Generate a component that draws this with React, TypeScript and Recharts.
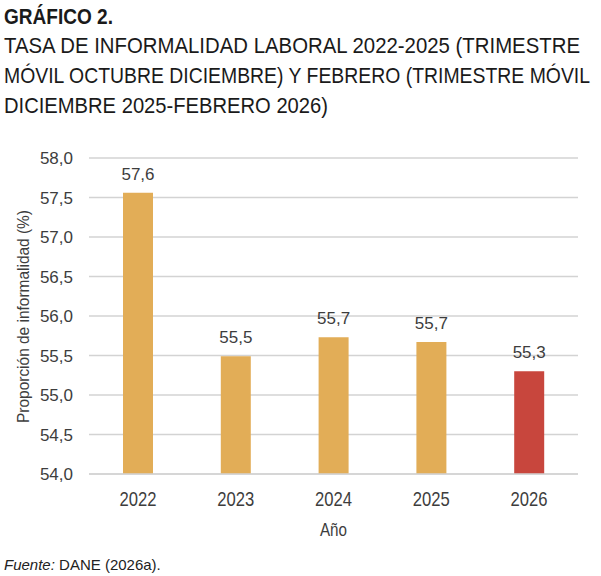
import { BarChart, Bar, XAxis, YAxis, CartesianGrid, Cell, LabelList } from 'recharts';

// trimestre móvil oct-dic (2022-2025) y dic-feb (2026)
const years = ['2022', '2023', '2024', '2025', '2026'];
const informalityRate = [57.56, 55.49, 55.73, 55.67, 55.3];
const barColors = ['#E2AD57', '#E2AD57', '#E2AD57', '#E2AD57', '#C8463D'];
const yTicks = [54, 54.5, 55, 55.5, 56, 56.5, 57, 57.5, 58];

const titleLines = [
  'TASA DE INFORMALIDAD LABORAL 2022-2025 (TRIMESTRE',
  'MÓVIL OCTUBRE DICIEMBRE) Y FEBRERO (TRIMESTRE MÓVIL',
  'DICIEMBRE 2025-FEBRERO 2026)',
];
const titleWidths = [576, 586, 324];

const data = years.map((year, i) => ({ year, rate: informalityRate[i] }));

const sans = "'Liberation Sans', Arial, sans-serif";
const comma = (v: number) => v.toFixed(1).replace('.', ',');
const squeeze = 0.78; // horizontal scale for the condensed title face

// condensed look for the year labels
function YearTick(props: any) {
  const { x, y, payload } = props;
  return (
    <text x={x} y={y + 15} dy="0.72em" textAnchor="middle" fontFamily={sans} fontSize={21}
      fill="#3d3d3d" textLength={37} lengthAdjust="spacingAndGlyphs">
      {payload.value}
    </text>
  );
}

export default function App() {
  return (
    <div style={{ position: 'absolute', left: 0, top: 0, width: 601, height: 576, background: '#fff' }}>
      <BarChart
        width={601}
        height={576}
        data={data}
        margin={{ top: 158, right: 23, bottom: 72, left: 29 }}
        style={{ position: 'absolute', left: 0, top: 0 }}
      >
        <CartesianGrid vertical={false} stroke="#d3d3d3" strokeWidth={1.4} />
        <XAxis
          dataKey="year"
          height={30}
          axisLine={{ stroke: '#d3d3d3', strokeWidth: 1.4 }}
          tickLine={false}
          tickSize={0}
          tick={<YearTick />}
        />
        <YAxis
          width={60}
          domain={[54, 58]}
          ticks={yTicks}
          interval={0}
          tickFormatter={comma}
          axisLine={false}
          tickLine={false}
          tickSize={0}
          tickMargin={16}
          tick={{ fill: '#3d3d3d', fontSize: 17, fontFamily: sans }}
        />
        <Bar dataKey="rate" barSize={30} isAnimationActive={false}>
          {data.map((d, i) => (
            <Cell key={d.year} fill={barColors[i]} />
          ))}
          <LabelList
            dataKey="rate"
            position="top"
            offset={13}
            formatter={(v: any) => comma(Number(v))}
            fill="#3d3d3d"
            fontSize={17}
            fontFamily={sans}
          />
        </Bar>
      </BarChart>

      <svg width={601} height={576} style={{ position: 'absolute', left: 0, top: 0, pointerEvents: 'none' }}>
        <text transform={`translate(4,23.5) scale(${squeeze},1)`} fontFamily={sans} fontWeight="bold"
          fontSize={22} fill="#1a1a1a" textLength={109 / squeeze} lengthAdjust="spacingAndGlyphs">
          GRÁFICO 2.
        </text>
        {titleLines.map((line, i) => (
          <text key={i} transform={`translate(4,${53 + i * 30}) scale(${squeeze},1)`} fontFamily={sans}
            fontSize={22} fill="#1a1a1a" textLength={titleWidths[i] / squeeze} lengthAdjust="spacingAndGlyphs">
            {line}
          </text>
        ))}
        <text transform="translate(29,316.5) rotate(-90)" textAnchor="middle" fontFamily={sans}
          fontSize={17} fill="#3d3d3d" textLength={213} lengthAdjust="spacingAndGlyphs">
          Proporción de informalidad (%)
        </text>
        <text x={333.5} y={536} textAnchor="middle" fontFamily={sans} fontSize={18} fill="#3d3d3d"
          textLength={27} lengthAdjust="spacingAndGlyphs">
          Año
        </text>
        <text x={4} y={570} fontFamily={sans} fontSize={15} fill="#222">
          <tspan fontStyle="italic">Fuente:</tspan> DANE (2026a).
        </text>
      </svg>
    </div>
  );
}
